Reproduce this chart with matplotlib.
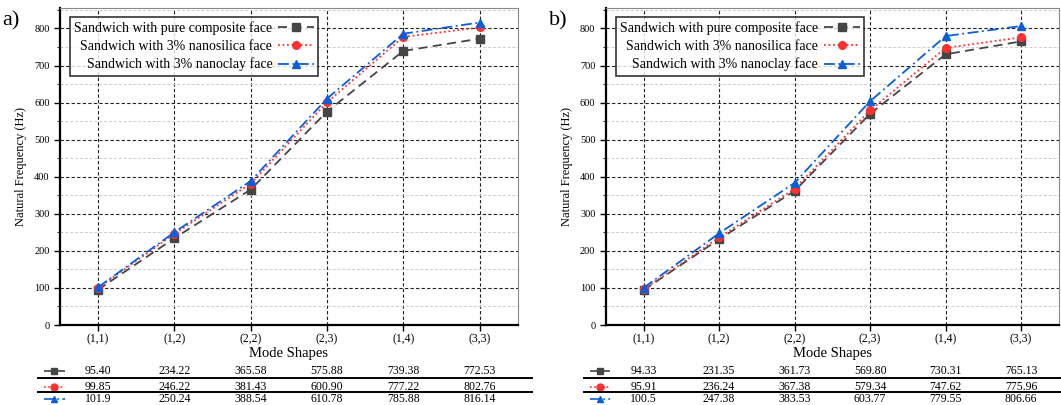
import matplotlib.pyplot as plt
from matplotlib.lines import Line2D
from matplotlib.ticker import MultipleLocator
import numpy as np

modes = ['(1,1)', '(1,2)', '(2,2)', '(2,3)', '(1,4)', '(3,3)']
labels = ['Sandwich with pure composite face',
          'Sandwich with 3% nanosilica face',
          'Sandwich with 3% nanoclay face']

# panel a)
pure_a = [95.40, 234.22, 365.58, 575.88, 739.38, 772.53]
silica_a = [99.85, 246.22, 381.43, 600.90, 777.22, 802.76]
clay_a = [101.9, 250.24, 388.54, 610.78, 785.88, 816.14]
text_a = [['95.40', '234.22', '365.58', '575.88', '739.38', '772.53'],
          ['99.85', '246.22', '381.43', '600.90', '777.22', '802.76'],
          ['101.9', '250.24', '388.54', '610.78', '785.88', '816.14']]

# panel b)
pure_b = [94.33, 231.35, 361.73, 569.80, 730.31, 765.13]
silica_b = [95.91, 236.24, 367.38, 579.34, 747.62, 775.96]
clay_b = [100.5, 247.38, 383.53, 603.77, 779.55, 806.66]
text_b = [['94.33', '231.35', '361.73', '569.80', '730.31', '765.13'],
          ['95.91', '236.24', '367.38', '579.34', '747.62', '775.96'],
          ['100.5', '247.38', '383.53', '603.77', '779.55', '806.66']]

styles = [dict(color='#454545', ls=(0, (5, 3)), marker='s'),
          dict(color='#ff3030', ls=(0, (1, 1.5)), marker='o'),
          dict(color='#0a5fd8', ls=(0, (6, 2, 1, 2)), marker='^')]

plt.rcParams['font.family'] = ['Liberation Serif', 'DejaVu Serif']

fig = plt.figure(figsize=(10.61, 4.05), dpi=100)
ax1 = fig.add_axes([0.0565, 0.1975, 0.4315, 0.7825])
ax2 = fig.add_axes([0.571, 0.1975, 0.427, 0.7825])


def draw_panel(ax, series, table, tag):
    x = np.arange(len(modes))
    for vals, st, lab in zip(series, styles, labels):
        ax.plot(x, vals, lw=1.3, markersize=5.5, label=lab, **st)
    ax.set_xlim(-0.5, 5.5)
    ax.set_ylim(0, 855)
    ax.set_xticks(x)
    ax.set_xticklabels(modes, fontsize=8.5)
    ax.yaxis.set_major_locator(MultipleLocator(100))
    ax.yaxis.set_minor_locator(MultipleLocator(50))
    ax.tick_params(axis='y', labelsize=7.5, direction='out', length=4, width=1)
    ax.tick_params(axis='y', which='minor', length=2)
    ax.tick_params(axis='x', direction='out', length=4, width=1, pad=2)
    ax.grid(True, which='major', color='#222222', ls=(0, (3, 2)), lw=0.8)
    ax.grid(True, which='minor', axis='y', color='#cccccc', ls=(0, (3, 2)), lw=0.7)
    for s in ['left', 'bottom']:
        ax.spines[s].set_linewidth(1.6)
    for s in ['top', 'right']:
        ax.spines[s].set_color('#888888')
        ax.spines[s].set_linewidth(0.8)
    ax.set_xlabel('Mode Shapes', fontsize=10.5, labelpad=1)
    ax.set_ylabel('Natural Frequency (Hz)', fontsize=9, labelpad=5)
    leg = ax.legend(loc='upper left', bbox_to_anchor=(0.022, 0.972), markerfirst=False,
                    fontsize=10, frameon=True, fancybox=False, edgecolor='black',
                    handlelength=2.6, borderpad=0.3, labelspacing=0.35,
                    handletextpad=0.4, borderaxespad=0)
    leg.get_frame().set_linewidth(1.2)
    leg.set_zorder(5)
    for t in leg.get_texts():
        t.set_ha('center')
    ax.text(-0.125, 0.96, tag, transform=ax.transAxes, fontsize=16, va='center', ha='left')

    # data table underneath
    tr = ax.get_xaxis_transform()
    rows_y = [-0.145, -0.195, -0.234]
    for r, (row, st) in enumerate(zip(table, styles)):
        for xi, val in zip(x, row):
            ax.text(xi, rows_y[r], val, transform=tr, ha='center', va='center',
                    fontsize=8.5, clip_on=False)
        samp = Line2D([-0.035, 0.01], [rows_y[r]] * 2, transform=ax.transAxes,
                      color=st['color'], ls=st['ls'], lw=1.2, clip_on=False)
        mk = Line2D([-0.012], [rows_y[r]], transform=ax.transAxes, color=st['color'],
                    marker=st['marker'], markersize=5, ls='none', clip_on=False)
        ax.add_line(samp)
        ax.add_line(mk)
    for ly in [-0.168, -0.21]:
        ax.add_line(Line2D([-0.048, 1.03], [ly, ly], transform=ax.transAxes,
                           color='black', lw=1.4, clip_on=False))


draw_panel(ax1, [pure_a, silica_a, clay_a], text_a, 'a)')
draw_panel(ax2, [pure_b, silica_b, clay_b], text_b, 'b)')

fig.savefig('out.png', dpi=100)
